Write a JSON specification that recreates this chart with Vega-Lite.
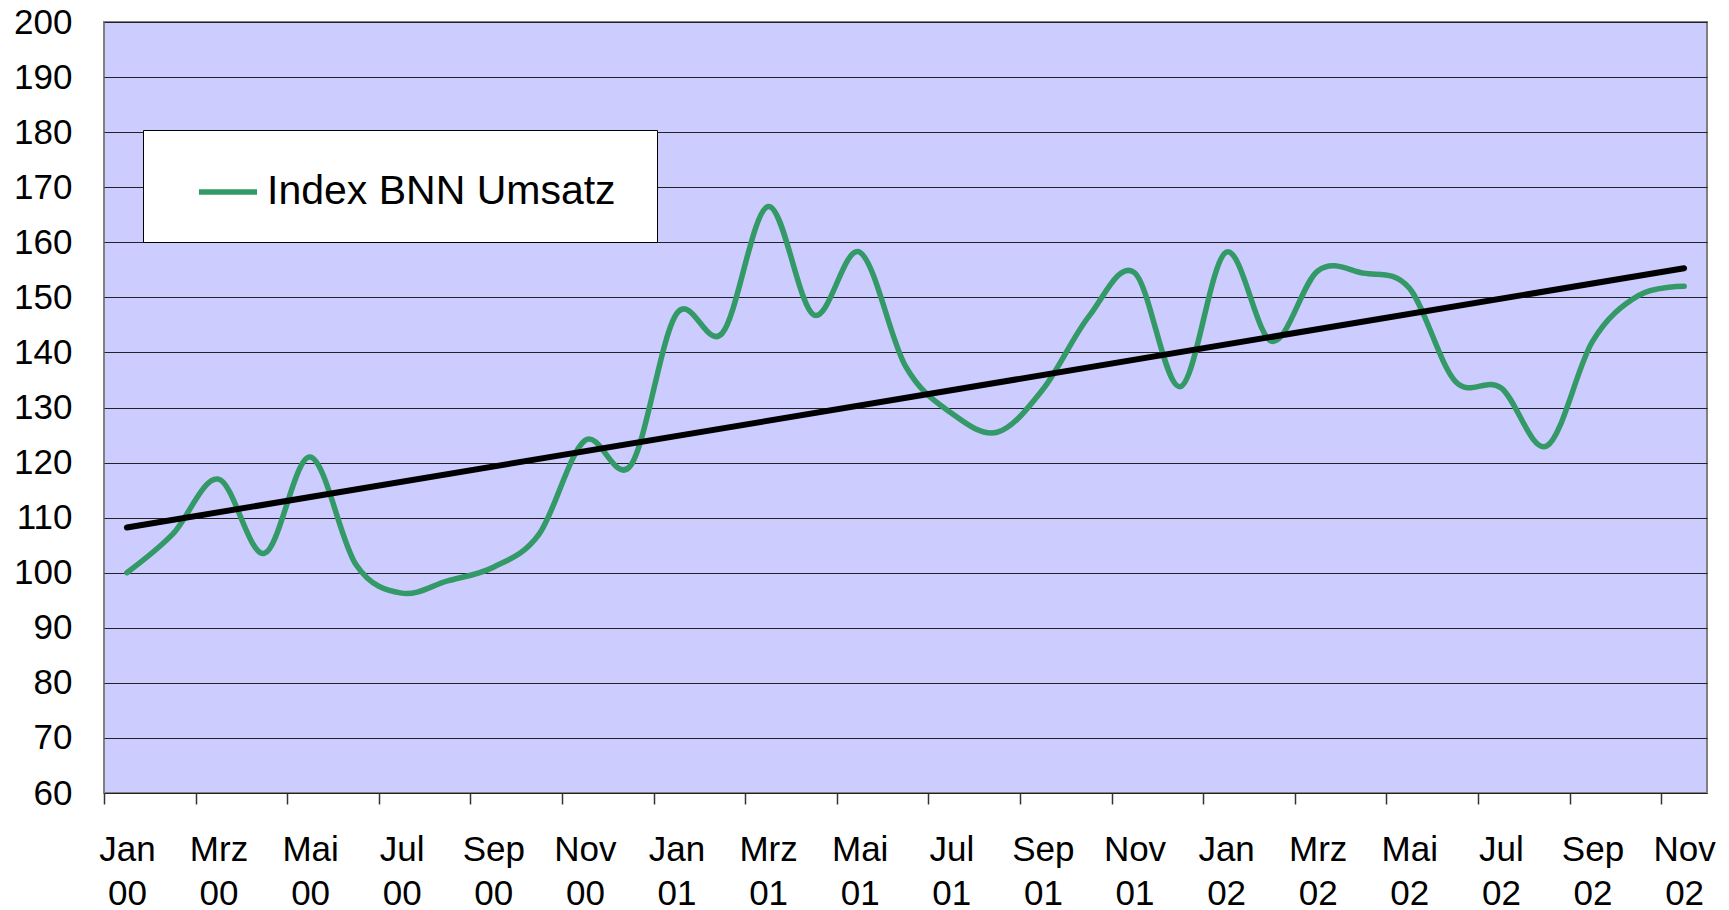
{
  "$schema": "https://vega.github.io/schema/vega-lite/v6.json",
  "autosize": "none",
  "width": 1603,
  "height": 771,
  "padding": {"left": 104, "top": 22, "right": 22, "bottom": 117},
  "background": "white",
  "datasets": {
    "sales": [
      {"month": "Jan 00", "index": 100},
      {"month": "Feb 00", "index": 107},
      {"month": "Mrz 00", "index": 117},
      {"month": "Apr 00", "index": 103.5},
      {"month": "Mai 00", "index": 121},
      {"month": "Jun 00", "index": 101.5},
      {"month": "Jul 00", "index": 96.3},
      {"month": "Aug 00", "index": 98.5},
      {"month": "Sep 00", "index": 101},
      {"month": "Okt 00", "index": 107},
      {"month": "Nov 00", "index": 124},
      {"month": "Dez 00", "index": 119.5},
      {"month": "Jan 01", "index": 147},
      {"month": "Feb 01", "index": 143.5},
      {"month": "Mrz 01", "index": 166.5},
      {"month": "Apr 01", "index": 146.8},
      {"month": "Mai 01", "index": 158.2},
      {"month": "Jun 01", "index": 137.5},
      {"month": "Jul 01", "index": 129},
      {"month": "Aug 01", "index": 125.5},
      {"month": "Sep 01", "index": 133.3},
      {"month": "Okt 01", "index": 146.5},
      {"month": "Nov 01", "index": 154.5},
      {"month": "Dez 01", "index": 133.8},
      {"month": "Jan 02", "index": 158.2},
      {"month": "Feb 02", "index": 142},
      {"month": "Mrz 02", "index": 154.8},
      {"month": "Apr 02", "index": 154.4},
      {"month": "Mai 02", "index": 151.7},
      {"month": "Jun 02", "index": 134.8},
      {"month": "Jul 02", "index": 133.6},
      {"month": "Aug 02", "index": 123},
      {"month": "Sep 02", "index": 142},
      {"month": "Okt 02", "index": 150.3},
      {"month": "Nov 02", "index": 152}
    ],
    "trend": [
      {"month": "Jan 00", "trend": 108.2},
      {"month": "Nov 02", "trend": 155.3}
    ]
  },
  "encoding": {
    "x": {
      "field": "month",
      "type": "ordinal",
      "scale": {
        "domain": ["Jan 00","Feb 00","Mrz 00","Apr 00","Mai 00","Jun 00","Jul 00","Aug 00","Sep 00","Okt 00","Nov 00","Dez 00",
                   "Jan 01","Feb 01","Mrz 01","Apr 01","Mai 01","Jun 01","Jul 01","Aug 01","Sep 01","Okt 01","Nov 01","Dez 01",
                   "Jan 02","Feb 02","Mrz 02","Apr 02","Mai 02","Jun 02","Jul 02","Aug 02","Sep 02","Okt 02","Nov 02"],
        "paddingInner": 0,
        "paddingOuter": 0
      },
      "axis": {
        "title": null,
        "values": ["Jan 00","Mrz 00","Mai 00","Jul 00","Sep 00","Nov 00","Jan 01","Mrz 01","Mai 01","Jul 01","Sep 01","Nov 01","Jan 02","Mrz 02","Mai 02","Jul 02","Sep 02","Nov 02"],
        "labelExpr": "split(datum.label, ' ')",
        "labelAngle": 0,
        "labelFont": "Liberation Sans",
        "labelFontSize": 35,
        "labelColor": "#000000",
        "labelLineHeight": 44,
        "labelPadding": 28,
        "labelBaseline": "top",
        "tickOffset": -22.9,
        "labelOffset": 22.9,
        "ticks": true,
        "tickSize": 11,
        "tickWidth": 1.5,
        "tickColor": "#333333",
        "grid": false,
        "domain": false
      }
    }
  },
  "layer": [
    {
      "data": {"name": "sales"},
      "mark": {"type": "line", "interpolate": "cardinal", "strokeWidth": 5.5, "strokeCap": "round", "strokeJoin": "round"},
      "encoding": {
        "y": {
          "field": "index",
          "type": "quantitative",
          "scale": {"domain": [60, 200], "nice": false, "zero": false},
          "axis": {
            "title": null,
            "values": [60,70,80,90,100,110,120,130,140,150,160,170,180,190,200],
            "labelFont": "Liberation Sans",
            "labelFontSize": 35,
            "labelColor": "#000000",
            "labelPadding": 32,
            "ticks": false,
            "domain": false,
            "grid": true,
            "gridColor": "#222222",
            "gridWidth": 1
          }
        },
        "color": {
          "datum": "Index BNN Umsatz",
          "type": "nominal",
          "scale": {"range": ["#339966"]},
          "legend": {
            "title": null,
            "orient": "none",
            "legendX": 39,
            "legendY": 108,
            "fillColor": "#ffffff",
            "strokeColor": "#000000",
            "padding": 30,
            "symbolType": "stroke",
            "symbolSize": 3364,
            "symbolStrokeWidth": 5.5,
            "symbolOffset": 23,
            "labelFont": "Liberation Sans",
            "labelFontSize": 41,
            "labelColor": "#000000",
            "labelOffset": 7,
            "labelLimit": 800,
            "labelExpr": "datum.label + '\u00a0\u200d'"
          }
        }
      }
    },
    {
      "data": {"name": "trend"},
      "mark": {"type": "line", "color": "#000000", "strokeWidth": 6, "strokeCap": "round"},
      "encoding": {
        "y": {"field": "trend", "type": "quantitative"}
      }
    }
  ],
  "config": {
    "font": "Liberation Sans",
    "view": {"fill": "#CCCCFF", "stroke": "#808080", "strokeWidth": 2}
  }
}
